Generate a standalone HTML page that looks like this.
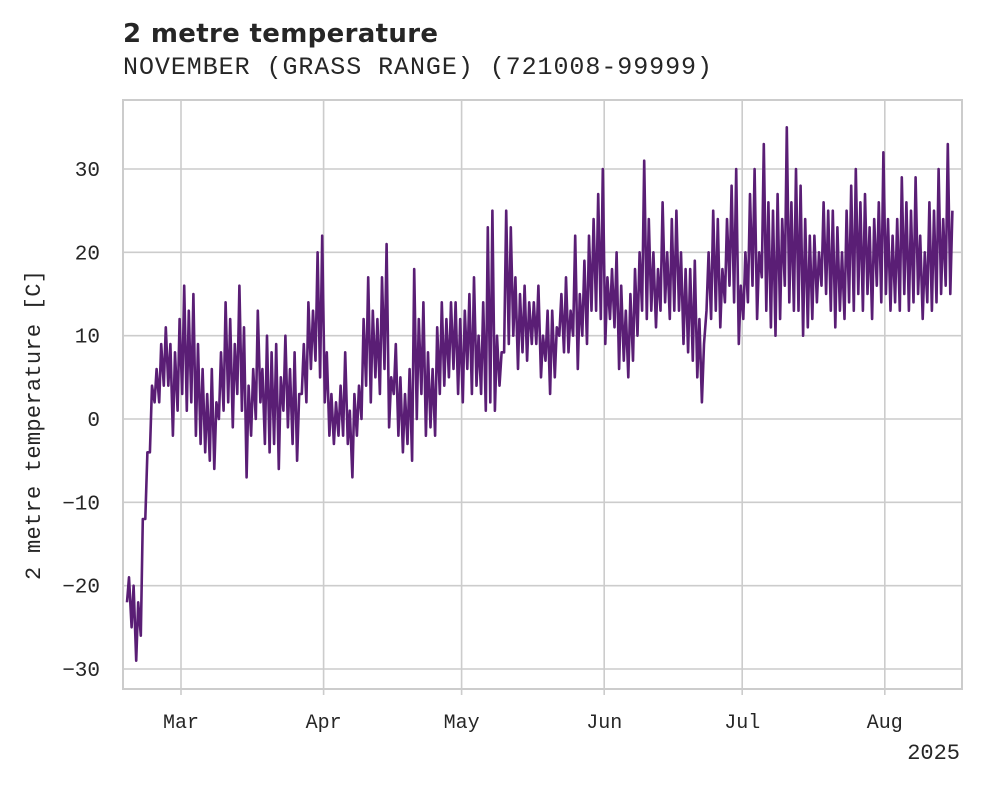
<!DOCTYPE html>
<html><head><meta charset="utf-8">
<style>
html,body{margin:0;padding:0;background:#fff;}
svg text{font-family:"Liberation Mono","DejaVu Sans Mono",monospace;fill:#262626;}
</style></head>
<body>
<svg id="chart" width="981" height="785" viewBox="0 0 981 785" xmlns="http://www.w3.org/2000/svg">
<text x="123" y="42" style="font-family:'DejaVu Sans','Liberation Sans',sans-serif;font-weight:bold;font-size:26px;" textLength="315">2 metre temperature</text>
<text x="123" y="74" style="font-size:25px;" textLength="589">NOVEMBER (GRASS RANGE) (721008-99999)</text>
<g id="grid"></g>
<g id="axes"></g>
<path id="series" fill="none" stroke="#5a1e75" stroke-width="2.6" stroke-linejoin="round"></path>
<rect x="123" y="100" width="839" height="589" fill="none" stroke="#cccccc" stroke-width="2"/>
<text transform="translate(40,425) rotate(-90)" text-anchor="middle" style="font-size:22px;" textLength="310">2 metre temperature [C]</text>
<text x="960" y="759" text-anchor="end" style="font-size:22px;">2025</text>
</svg>
<script>
// daily minima / maxima starting 2025-02-17
const dailyMin = [-22,-25,-29,-26,-12,-4,2,2,4,4,-2,1,
3,1,2,-2,-3,-4,-5,-6,0,1,2,-1,3,1,-7,-2,0,2,-3,-4,-3,-6,1,-1,-3,-5,3,2,6,7,5,
2,-2,-3,-2,-2,-3,-7,-2,0,4,2,5,3,6,-1,3,-2,-4,-3,-5,0,3,-2,-1,-2,3,4,5,6,3,
2,6,3,4,3,1,2,1,4,8,9,10,6,8,7,9,9,5,7,3,5,10,8,8,10,6,10,9,13,13,12,
9,12,11,6,7,5,7,10,13,12,13,11,13,14,12,13,13,9,8,7,5,2,13,12,13,11,14,16,14,9,
12,14,16,12,17,13,11,10,12,16,14,13,13,10,11,12,14,16,15,13,11,13,12,14,13,15,13,15,12,16,14,
15,13,14,13,15,13,14,15,12,14,13,14,15,16,15];
const dailyMax = [-19,-20,-22,-12,-4,4,6,9,11,9,8,12,
16,13,15,9,6,3,6,2,8,14,12,9,16,11,4,6,13,6,10,8,9,5,10,6,8,3,9,14,13,20,22,
8,3,2,4,8,1,3,4,12,17,13,12,17,21,5,9,5,3,6,18,12,14,8,6,11,14,12,14,14,12,
13,15,17,10,14,23,25,10,8,25,23,17,15,16,14,14,16,10,13,13,11,15,17,13,22,15,19,22,24,27,30,
17,18,20,16,13,15,18,20,31,24,20,18,26,20,24,25,20,18,18,19,12,9,20,25,24,18,24,28,30,16,
20,27,30,20,33,26,25,27,24,35,26,30,28,24,22,22,20,26,25,25,23,20,25,28,30,26,27,23,24,26,32,
24,22,24,29,26,25,29,22,20,26,25,30,24,33,25];
const yTicks = [-30,-20,-10,0,10,20,30];
const monthLabels = ["Mar","Apr","May","Jun","Jul","Aug"];
const monthDays = [12,43,73,104,134,165]; // day index from Feb 17

const X0=123,X1=962,Y0=100,Y1=689;
function xScale(d){return 181+(d-12)*4.6;}
function yScale(v){return 419-v*8.333;}
const NS="http://www.w3.org/2000/svg";
const grid=document.getElementById('grid'), axes=document.getElementById('axes');
function mk(tag,attrs,parent){const e=document.createElementNS(NS,tag);for(const k in attrs)e.setAttribute(k,attrs[k]);parent.appendChild(e);return e;}
yTicks.forEach(v=>{
  const y=yScale(v);
  const l=mk('line',{x1:X0,x2:X1,y1:y,y2:y,stroke:'#cccccc','stroke-width':1.6},grid);
  
  
  const t=mk('text',{x:100,y:y+7,'text-anchor':'end','font-size':21},axes);
  t.textContent=v<0?'\u2212'+Math.abs(v):String(v);
  
  
});
monthDays.forEach((d,i)=>{
  const x=xScale(d);
  const l=mk('line',{x1:x,x2:x,y1:Y0,y2:Y1,stroke:'#cccccc','stroke-width':1.6},grid);
  
  
  const tk=mk('line',{x1:x,x2:x,y1:Y1,y2:Y1+6,stroke:'#cccccc','stroke-width':1.6},axes);
  
  
  const t=mk('text',{x:x,y:728,'text-anchor':'middle','font-size':20},axes);
  t.textContent=monthLabels[i];
  
  
});
let dstr='';
for(let i=0;i<dailyMin.length;i++){
  const a=[xScale(i+0.25),yScale(dailyMin[i])], b=[xScale(i+0.7),yScale(dailyMax[i])];
  dstr+=(i===0?'M':'L')+a[0].toFixed(1)+','+a[1].toFixed(1)+'L'+b[0].toFixed(1)+','+b[1].toFixed(1);
}
document.getElementById('series').setAttribute('d',dstr);
</script>
</body></html>
